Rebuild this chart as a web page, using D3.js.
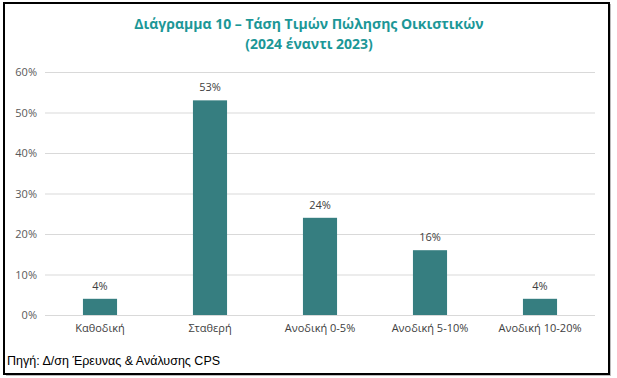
<!DOCTYPE html>
<html><head><meta charset="utf-8">
<script src="https://cdn.jsdelivr.net/npm/d3@7"></script>
<style>body{margin:0;background:#fff}svg{display:block}</style>
</head><body>
<svg id="c" width="617" height="378"></svg>
<script>
const categories = ["Καθοδική", "Σταθερή", "Ανοδική 0-5%", "Ανοδική 5-10%", "Ανοδική 10-20%"];
const values = [4, 53, 24, 16, 4];
const yTicks = [0, 10, 20, 30, 40, 50, 60];
const titleLines = ["Διάγραμμα 10 – Τάση Τιμών Πώλησης Οικιστικών", "(2024 έναντι 2023)"];
const sourceText = "Πηγή: Δ/ση Έρευνας & Ανάλυσης CPS";

const svg = d3.select("#c");
const m = {left: 45, right: 595, top: 72, bottom: 315};

// frame with shadow
svg.append("rect").attr("x", 6).attr("y", 4).attr("width", 605).attr("height", 372).attr("fill", "#bbb");
svg.append("rect").attr("x", 4).attr("y", 3).attr("width", 605).attr("height", 371)
  .attr("fill", "#fff").attr("stroke", "#000").attr("stroke-width", 2);

const x = d3.scaleBand().domain(categories).range([m.left, m.right]).paddingInner(0.69).paddingOuter(0.345);
const y = d3.scaleLinear().domain([0, 60]).range([m.bottom, m.top]);

// gridlines
svg.append("g").selectAll("line").data(yTicks).join("line")
  .attr("x1", m.left).attr("x2", m.right)
  .attr("y1", d => y(d) + 0.5).attr("y2", d => y(d) + 0.5)
  .attr("stroke", "#d9d9d9").attr("stroke-width", 1);

// y axis labels
const yAxis = d3.axisLeft(y).tickValues(yTicks).tickFormat(d => d + "%").tickSize(0).tickPadding(8);
const ya = svg.append("g").attr("transform", `translate(${m.left},0)`).call(yAxis);
ya.select(".domain").remove();
ya.selectAll("text").attr("font-family", "Open Sans, sans-serif").attr("font-size", 11).attr("fill", "#595959");

// x axis labels
const xAxis = d3.axisBottom(x).tickSize(0).tickPadding(9);
const xa = svg.append("g").attr("transform", `translate(0,${m.bottom})`).call(xAxis);
xa.select(".domain").remove();
xa.selectAll("text").attr("font-family", "Open Sans, sans-serif").attr("font-size", 11).attr("fill", "#404040");

// bars
svg.append("g").selectAll("rect").data(values).join("rect")
  .attr("x", (d, i) => x(categories[i]))
  .attr("width", x.bandwidth())
  .attr("y", d => y(d))
  .attr("height", d => y(0) - y(d))
  .attr("fill", "#367E80");

// data labels
svg.append("g").selectAll("text").data(values).join("text")
  .attr("x", (d, i) => x(categories[i]) + x.bandwidth() / 2)
  .attr("y", d => y(d) - 9)
  .attr("text-anchor", "middle")
  .attr("font-family", "Open Sans, sans-serif").attr("font-size", 11).attr("fill", "#404040")
  .text(d => d + "%");

// title
svg.append("g").selectAll("text").data(titleLines).join("text")
  .attr("x", 309).attr("y", (d, i) => 29 + i * 20)
  .attr("text-anchor", "middle")
  .attr("font-family", "Open Sans, sans-serif").attr("font-weight", "bold").attr("font-size", 14)
  .attr("fill", "#1C9797")
  .text(d => d);

// source
svg.append("text").attr("x", 7).attr("y", 365)
  .attr("font-family", "Liberation Sans, Arial, sans-serif").attr("font-size", 12.5).attr("fill", "#000")
  .text(sourceText);
</script>
</body></html>
